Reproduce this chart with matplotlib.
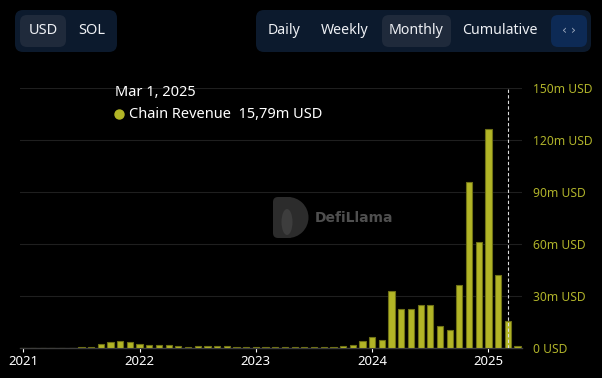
import matplotlib.pyplot as plt
import matplotlib.patches as mp
import numpy as np

plt.rcParams['font.family'] = ['Noto Sans', 'DejaVu Sans']

# monthly chain revenue, m USD, Jan 2021 .. Apr 2025
rev_2021 = [0.05, 0.15, 0.2, 0.25, 0.25, 0.25, 0.3, 0.75, 2.1, 3.3, 4.0, 3.5]
rev_2022 = [2.5, 1.9, 1.9, 1.9, 1.2, 0.8, 1.0, 1.0, 1.0, 1.0, 0.6, 0.4]
rev_2023 = [0.6, 0.6, 0.6, 0.6, 0.6, 0.6, 0.7, 0.7, 0.8, 1.0, 1.7, 4.0]
rev_2024 = [6.1, 4.8, 33.1, 22.7, 22.3, 24.6, 25.0, 12.5, 10.2, 36.4, 96.0, 61.0]
rev_2025 = [126.2, 42.1, 15.79, 1.0]
revenue = rev_2021 + rev_2022 + rev_2023 + rev_2024 + rev_2025

years = ['2021', '2022', '2023', '2024', '2025']
y_ticks = [0, 30, 60, 90, 120, 150]
y_labels = ['0 USD', '30m USD', '60m USD', '90m USD', '120m USD', '150m USD']
hover_idx = 50  # Mar 2025
hover_date = 'Mar 1, 2025'
hover_value = '15,79m USD'
ranges = ['Daily', 'Weekly', 'Monthly', 'Cumulative']
units = ['USD', 'SOL']

bar_color = '#b2b526'
bar_edge = '#6f7116'
label_color = '#b0b32a'

fig = plt.figure(figsize=(6.02, 3.78), dpi=100, facecolor='black')

# chart axes
ax = fig.add_axes([20 / 602, 30 / 378, 502 / 602, 260 / 378])
ax.set_facecolor('black')
x = np.arange(len(revenue))
ax.bar(x, revenue, width=0.64, color=bar_color, edgecolor=bar_edge, linewidth=0.8, zorder=3)
ax.set_xlim(-0.34, 51.46)
ax.set_ylim(0, 150)

ax.yaxis.tick_right()
ax.set_yticks(y_ticks)
ax.set_yticklabels(y_labels, color=label_color, fontsize=8.7)
ax.tick_params(axis='y', length=0, pad=8)
ax.grid(axis='y', color='#1f1f1f', linewidth=0.8, zorder=0)

ax.set_xticks([12 * i for i in range(len(years))])
ax.set_xticklabels(years, color='white', fontsize=9.5)
ax.tick_params(axis='x', color='white', length=3, width=0.8, pad=2)

for s in ['top', 'left', 'right']:
    ax.spines[s].set_visible(False)
ax.spines['bottom'].set_color('#3c3c3c')
ax.spines['bottom'].set_linewidth(1)

ax.axvline(hover_idx, color='#dddddd', linewidth=0.8, linestyle=(0, (3, 2)), zorder=4)

# overlay in pixel coords for buttons, tooltip, watermark
ov = fig.add_axes([0, 0, 1, 1], facecolor='none')
ov.set_xlim(0, 602)
ov.set_ylim(378, 0)
ov.axis('off')

def box(x0, y0, w, h, color, r=8):
    ov.add_patch(mp.FancyBboxPatch((x0, y0), w, h, boxstyle='round,pad=0,rounding_size=%d' % r,
                                   facecolor=color, edgecolor='none'))

box(15, 10, 102, 42, '#0c1a2d')
box(20, 15, 46, 32, '#1f2a3b', r=7)
ov.text(43, 31, units[0], color='#eef0f4', fontsize=10.5, ha='center', va='center')
ov.text(92, 31, units[1], color='#eef0f4', fontsize=10.5, ha='center', va='center')

box(256, 10, 335, 42, '#0c1a2d')
box(382, 15, 69, 32, '#1f2a3b', r=7)
box(551, 15, 36, 32, '#0d2a55', r=7)
for label, cx in zip(ranges, [284, 345, 416, 500]):
    ov.text(cx, 31, label, color='#eef0f4', fontsize=10.2, ha='center', va='center')
ov.text(569, 30, '‹ ›', color='#9aa6bb', fontsize=9, ha='center', va='center', family='DejaVu Sans')

# tooltip
ov.text(115, 93, hover_date, color='white', fontsize=10.5, ha='left', va='center')
ov.add_patch(mp.Circle((119.5, 114.5), 4.5, color=bar_color))
ov.text(129, 114, 'Chain Revenue  ' + hover_value, color='white', fontsize=10.5, ha='left', va='center')

# watermark
ov.add_patch(mp.FancyBboxPatch((273, 197), 20, 41, boxstyle='round,pad=0,rounding_size=5',
                               facecolor='#2c2c2c', edgecolor='none'))
ov.add_patch(mp.Wedge((288, 217.5), 20.5, -90, 90, facecolor='#2c2c2c', edgecolor='none'))
ov.add_patch(mp.Ellipse((287, 222), 11, 26, facecolor='#3d3d3d', edgecolor='none'))
ov.text(315, 218, 'DefiLlama', color='#4f4f4f', fontsize=10, fontweight='bold', ha='left',
        va='center', family='DejaVu Sans')

fig.savefig('out.png', dpi=100, facecolor='black')
